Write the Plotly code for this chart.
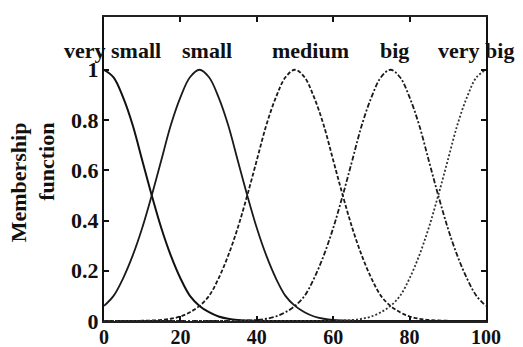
import plotly.graph_objects as go

x = [0, 2.5, 5, 7.5, 10, 12.5, 15, 17.5, 20, 22.5, 25, 27.5, 30, 32.5, 35, 37.5, 40,
     42.5, 45, 47.5, 50, 52.5, 55, 57.5, 60, 62.5, 65, 67.5, 70, 72.5, 75, 77.5, 80,
     82.5, 85, 87.5, 90, 92.5, 95, 97.5, 100]

very_small = [1.00, 0.97, 0.89, 0.78, 0.64, 0.50, 0.37, 0.26, 0.17, 0.10, 0.06, 0.035,
              0.018, 0.009, 0.004, 0.002, 0.001, 0, 0, 0, 0, 0, 0, 0, 0, 0, 0, 0, 0, 0,
              0, 0, 0, 0, 0, 0, 0, 0, 0, 0, 0]
small = [0.06, 0.10, 0.17, 0.26, 0.37, 0.50, 0.64, 0.78, 0.89, 0.97, 1.00, 0.97, 0.89,
         0.78, 0.64, 0.50, 0.37, 0.26, 0.17, 0.10, 0.06, 0.035, 0.018, 0.009, 0.004,
         0.002, 0.001, 0, 0, 0, 0, 0, 0, 0, 0, 0, 0, 0, 0, 0, 0]
medium = [0, 0, 0, 0, 0.001, 0.002, 0.004, 0.009, 0.018, 0.035, 0.06, 0.10, 0.17, 0.26,
          0.37, 0.50, 0.64, 0.78, 0.89, 0.97, 1.00, 0.97, 0.89, 0.78, 0.64, 0.50, 0.37,
          0.26, 0.17, 0.10, 0.06, 0.035, 0.018, 0.009, 0.004, 0.002, 0.001, 0, 0, 0, 0]
big = [0, 0, 0, 0, 0, 0, 0, 0, 0, 0, 0, 0, 0, 0, 0.001, 0.002, 0.004, 0.009, 0.018,
       0.035, 0.06, 0.10, 0.17, 0.26, 0.37, 0.50, 0.64, 0.78, 0.89, 0.97, 1.00, 0.97,
       0.89, 0.78, 0.64, 0.50, 0.37, 0.26, 0.17, 0.10, 0.06]
very_big = [0, 0, 0, 0, 0, 0, 0, 0, 0, 0, 0, 0, 0, 0, 0, 0, 0, 0, 0, 0, 0, 0, 0, 0,
            0.001, 0.002, 0.004, 0.009, 0.018, 0.035, 0.06, 0.10, 0.17, 0.26, 0.37,
            0.50, 0.64, 0.78, 0.89, 0.97, 1.00]

series = [
    ("very small", very_small, "solid", 2.0, "#111"),
    ("small", small, "solid", 1.8, "#1a1a1a"),
    ("medium", medium, "4px,2px", 1.8, "#1a1a1a"),
    ("big", big, "5px,2px,2px,2px", 1.8, "#1a1a1a"),
    ("very big", very_big, "2px,2px", 1.8, "#333"),
]

label_x = [0.023, 0.27, 0.54, 0.76, 0.974]
label_names = ["very small", "small", "medium", "big", "very big"]
label_y = 0.89

x_ticks = [0, 20, 40, 60, 80, 100]
x_ticktext = ["0", "20", "40", "60", "80", "100"]
y_ticks = [0, 0.2, 0.4, 0.6, 0.8, 1]
y_ticktext = ["0", "0.2", "0.4", "0.6", "0.8", "1"]

FONT = "Liberation Serif"
FS = 22

fig = go.Figure()
for name, ys, dash, w, col in series:
    fig.add_trace(go.Scatter(x=x, y=ys, mode="lines", name=name,
                             line=dict(color=col, width=w, dash=dash, shape="spline"),
                             showlegend=False))

for lx, ln in zip(label_x, label_names):
    fig.add_annotation(x=lx, y=label_y, xref="paper", yref="paper", text="<b>%s</b>" % ln,
                       xanchor="center", yanchor="middle",
                       showarrow=False, font=dict(family=FONT, size=FS, color="#111"))

fig.add_annotation(x=-0.186, y=0.456, xref="paper", yref="paper",
                   text="<b>Membership<br>function</b>", textangle=-90, align="right",
                   xanchor="center", yanchor="middle",
                   showarrow=False, font=dict(family=FONT, size=FS, color="#111"))

# page body has an 8px default margin, so the figure is offset by 8px right/down
fig.update_layout(
    width=523, height=347,
    margin=dict(l=96, r=45, t=9, b=34, autoexpand=False),
    paper_bgcolor="white", plot_bgcolor="white",
    font=dict(family=FONT, size=FS, color="#111"),
)
fig.update_xaxes(range=[0, 100], tickvals=x_ticks,
                 ticktext=["<b>%s</b>" % t for t in x_ticktext],
                 ticks="inside", ticklen=5, tickwidth=1.5, tickcolor="#111",
                 showline=True, linecolor="#222", linewidth=1.5, mirror="ticks",
                 showgrid=False, zeroline=False, ticklabelstandoff=-3, automargin=False,
                 tickfont=dict(family=FONT, size=20, color="#111"))
fig.update_yaxes(range=[0, 1.21], tickvals=y_ticks,
                 ticktext=["<b>%s</b>" % t for t in y_ticktext], ticks="inside",
                 ticklen=5, tickwidth=1.5, tickcolor="#111", showline=True,
                 linecolor="#111", linewidth=2.2, mirror="ticks", showgrid=False,
                 zeroline=False, ticklabelstandoff=-1, automargin=False,
                 tickfont=dict(family=FONT, size=FS, color="#111"))

fig.write_html("out.html")
